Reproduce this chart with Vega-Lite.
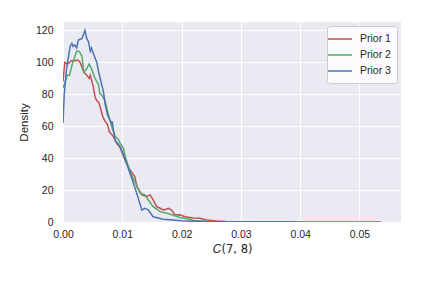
{
  "$schema": "https://vega.github.io/schema/vega-lite/v6.json",
  "width": 338,
  "height": 200,
  "autosize": {"type": "none"},
  "padding": {"left": 63, "top": 22, "right": 22, "bottom": 60},
  "background": "white",
  "data": {"values": [
    {"x": 0.0000, "d": 88, "s": "Prior 1"},
    {"x": 0.0003, "d": 100, "s": "Prior 1"},
    {"x": 0.0008, "d": 99, "s": "Prior 1"},
    {"x": 0.0014, "d": 101, "s": "Prior 1"},
    {"x": 0.0020, "d": 101, "s": "Prior 1"},
    {"x": 0.0025, "d": 101.5, "s": "Prior 1"},
    {"x": 0.0029, "d": 100, "s": "Prior 1"},
    {"x": 0.0032, "d": 97, "s": "Prior 1"},
    {"x": 0.0035, "d": 94, "s": "Prior 1"},
    {"x": 0.0040, "d": 92, "s": "Prior 1"},
    {"x": 0.0044, "d": 90, "s": "Prior 1"},
    {"x": 0.0046, "d": 92, "s": "Prior 1"},
    {"x": 0.0051, "d": 85, "s": "Prior 1"},
    {"x": 0.0054, "d": 78.5, "s": "Prior 1"},
    {"x": 0.0057, "d": 76, "s": "Prior 1"},
    {"x": 0.0060, "d": 75, "s": "Prior 1"},
    {"x": 0.0062, "d": 73, "s": "Prior 1"},
    {"x": 0.0067, "d": 66, "s": "Prior 1"},
    {"x": 0.0071, "d": 63, "s": "Prior 1"},
    {"x": 0.0075, "d": 61, "s": "Prior 1"},
    {"x": 0.0078, "d": 56.6, "s": "Prior 1"},
    {"x": 0.0085, "d": 53.5, "s": "Prior 1"},
    {"x": 0.0091, "d": 49, "s": "Prior 1"},
    {"x": 0.0096, "d": 47, "s": "Prior 1"},
    {"x": 0.0102, "d": 41, "s": "Prior 1"},
    {"x": 0.0107, "d": 37, "s": "Prior 1"},
    {"x": 0.0113, "d": 32.6, "s": "Prior 1"},
    {"x": 0.0121, "d": 28.4, "s": "Prior 1"},
    {"x": 0.0125, "d": 22, "s": "Prior 1"},
    {"x": 0.0133, "d": 17, "s": "Prior 1"},
    {"x": 0.0141, "d": 16, "s": "Prior 1"},
    {"x": 0.0147, "d": 17, "s": "Prior 1"},
    {"x": 0.0152, "d": 13.8, "s": "Prior 1"},
    {"x": 0.0158, "d": 9.6, "s": "Prior 1"},
    {"x": 0.0164, "d": 8.6, "s": "Prior 1"},
    {"x": 0.0169, "d": 7.5, "s": "Prior 1"},
    {"x": 0.0174, "d": 8.0, "s": "Prior 1"},
    {"x": 0.0178, "d": 8.6, "s": "Prior 1"},
    {"x": 0.0183, "d": 7.5, "s": "Prior 1"},
    {"x": 0.0189, "d": 4.4, "s": "Prior 1"},
    {"x": 0.0197, "d": 4.5, "s": "Prior 1"},
    {"x": 0.0206, "d": 3.3, "s": "Prior 1"},
    {"x": 0.0220, "d": 2.5, "s": "Prior 1"},
    {"x": 0.0231, "d": 2.3, "s": "Prior 1"},
    {"x": 0.0242, "d": 1.25, "s": "Prior 1"},
    {"x": 0.0259, "d": 0.6, "s": "Prior 1"},
    {"x": 0.0275, "d": 0.3, "s": "Prior 1"},
    {"x": 0.0300, "d": 0.1, "s": "Prior 1"},
    {"x": 0.0350, "d": 0.03, "s": "Prior 1"},
    {"x": 0.0400, "d": 0.01, "s": "Prior 1"},
    {"x": 0.0450, "d": 0.01, "s": "Prior 1"},
    {"x": 0.0536, "d": 0.01, "s": "Prior 1"},
    {"x": 0.0000, "d": 84, "s": "Prior 2"},
    {"x": 0.0003, "d": 87, "s": "Prior 2"},
    {"x": 0.0007, "d": 92, "s": "Prior 2"},
    {"x": 0.0011, "d": 92, "s": "Prior 2"},
    {"x": 0.0015, "d": 98, "s": "Prior 2"},
    {"x": 0.0019, "d": 102.6, "s": "Prior 2"},
    {"x": 0.0023, "d": 107, "s": "Prior 2"},
    {"x": 0.0027, "d": 107, "s": "Prior 2"},
    {"x": 0.0032, "d": 104, "s": "Prior 2"},
    {"x": 0.0035, "d": 94, "s": "Prior 2"},
    {"x": 0.0040, "d": 96, "s": "Prior 2"},
    {"x": 0.0044, "d": 99, "s": "Prior 2"},
    {"x": 0.0048, "d": 96, "s": "Prior 2"},
    {"x": 0.0054, "d": 90, "s": "Prior 2"},
    {"x": 0.0060, "d": 86, "s": "Prior 2"},
    {"x": 0.0062, "d": 80.6, "s": "Prior 2"},
    {"x": 0.0065, "d": 79.6, "s": "Prior 2"},
    {"x": 0.0071, "d": 76, "s": "Prior 2"},
    {"x": 0.0076, "d": 68, "s": "Prior 2"},
    {"x": 0.0082, "d": 60, "s": "Prior 2"},
    {"x": 0.0088, "d": 53.5, "s": "Prior 2"},
    {"x": 0.0093, "d": 52, "s": "Prior 2"},
    {"x": 0.0097, "d": 49, "s": "Prior 2"},
    {"x": 0.0102, "d": 46, "s": "Prior 2"},
    {"x": 0.0105, "d": 41, "s": "Prior 2"},
    {"x": 0.0113, "d": 31.5, "s": "Prior 2"},
    {"x": 0.0124, "d": 23, "s": "Prior 2"},
    {"x": 0.0130, "d": 18, "s": "Prior 2"},
    {"x": 0.0138, "d": 17, "s": "Prior 2"},
    {"x": 0.0144, "d": 13.8, "s": "Prior 2"},
    {"x": 0.0152, "d": 9.6, "s": "Prior 2"},
    {"x": 0.0164, "d": 6.5, "s": "Prior 2"},
    {"x": 0.0180, "d": 5, "s": "Prior 2"},
    {"x": 0.0197, "d": 2.8, "s": "Prior 2"},
    {"x": 0.0214, "d": 1.7, "s": "Prior 2"},
    {"x": 0.0220, "d": 1.0, "s": "Prior 2"},
    {"x": 0.0240, "d": 0.4, "s": "Prior 2"},
    {"x": 0.0260, "d": 0.15, "s": "Prior 2"},
    {"x": 0.0300, "d": 0.05, "s": "Prior 2"},
    {"x": 0.0405, "d": 0.01, "s": "Prior 2"},
    {"x": 0.0000, "d": 62, "s": "Prior 3"},
    {"x": 0.0002, "d": 79.6, "s": "Prior 3"},
    {"x": 0.0006, "d": 96, "s": "Prior 3"},
    {"x": 0.0012, "d": 110, "s": "Prior 3"},
    {"x": 0.0015, "d": 112, "s": "Prior 3"},
    {"x": 0.0017, "d": 110, "s": "Prior 3"},
    {"x": 0.0020, "d": 111, "s": "Prior 3"},
    {"x": 0.0023, "d": 109, "s": "Prior 3"},
    {"x": 0.0026, "d": 114, "s": "Prior 3"},
    {"x": 0.0032, "d": 115, "s": "Prior 3"},
    {"x": 0.0037, "d": 120, "s": "Prior 3"},
    {"x": 0.0040, "d": 115, "s": "Prior 3"},
    {"x": 0.0043, "d": 113, "s": "Prior 3"},
    {"x": 0.0046, "d": 107, "s": "Prior 3"},
    {"x": 0.0048, "d": 109, "s": "Prior 3"},
    {"x": 0.0051, "d": 105.7, "s": "Prior 3"},
    {"x": 0.0057, "d": 100, "s": "Prior 3"},
    {"x": 0.0059, "d": 96, "s": "Prior 3"},
    {"x": 0.0062, "d": 91, "s": "Prior 3"},
    {"x": 0.0068, "d": 82, "s": "Prior 3"},
    {"x": 0.0071, "d": 74, "s": "Prior 3"},
    {"x": 0.0075, "d": 67, "s": "Prior 3"},
    {"x": 0.0079, "d": 64, "s": "Prior 3"},
    {"x": 0.0082, "d": 62, "s": "Prior 3"},
    {"x": 0.0083, "d": 63, "s": "Prior 3"},
    {"x": 0.0085, "d": 57.6, "s": "Prior 3"},
    {"x": 0.0088, "d": 51, "s": "Prior 3"},
    {"x": 0.0093, "d": 49, "s": "Prior 3"},
    {"x": 0.0099, "d": 45, "s": "Prior 3"},
    {"x": 0.0105, "d": 39, "s": "Prior 3"},
    {"x": 0.0113, "d": 30.5, "s": "Prior 3"},
    {"x": 0.0121, "d": 22, "s": "Prior 3"},
    {"x": 0.0127, "d": 14.8, "s": "Prior 3"},
    {"x": 0.0133, "d": 7.5, "s": "Prior 3"},
    {"x": 0.0138, "d": 8.6, "s": "Prior 3"},
    {"x": 0.0144, "d": 7.5, "s": "Prior 3"},
    {"x": 0.0152, "d": 3.3, "s": "Prior 3"},
    {"x": 0.0169, "d": 1.7, "s": "Prior 3"},
    {"x": 0.0186, "d": 1.2, "s": "Prior 3"},
    {"x": 0.0200, "d": 0.8, "s": "Prior 3"},
    {"x": 0.0220, "d": 0.5, "s": "Prior 3"},
    {"x": 0.0250, "d": 0.2, "s": "Prior 3"},
    {"x": 0.0300, "d": 0.05, "s": "Prior 3"},
    {"x": 0.0390, "d": 0.01, "s": "Prior 3"}
  ]},
  "mark": {"type": "line", "strokeWidth": 1.5, "clip": true},
  "encoding": {
    "x": {"field": "x", "type": "quantitative", "title": "𝐶(7, 8)",
      "scale": {"domain": [0, 0.057], "nice": false, "zero": false},
      "axis": {"values": [0, 0.01, 0.02, 0.03, 0.04, 0.05], "format": ".2f", "labelPadding": 7, "titlePadding": 4, "labelFlush": false, "titleFont": "DejaVu Sans", "titleFontSize": 11.5}},
    "y": {"field": "d", "type": "quantitative", "title": "Density",
      "scale": {"domain": [0, 125.3], "nice": false},
      "axis": {"values": [0, 20, 40, 60, 80, 100, 120], "labelPadding": 10, "titlePadding": 6}},
    "color": {"field": "s", "type": "nominal",
      "scale": {"domain": ["Prior 1", "Prior 2", "Prior 3"], "range": ["#C44E52", "#55A868", "#4C72B0"]},
      "legend": {"title": null, "orient": "top-right", "offset": 4}}
  },
  "config": {
    "view": {"fill": "#EAEAF2", "stroke": null},
    "axis": {"domain": false, "ticks": false, "gridColor": "#FFFFFF", "gridWidth": 1, "gridOpacity": 1,
      "labelFont": "Liberation Sans", "labelFontSize": 10.5, "labelColor": "#262626",
      "titleFont": "Liberation Sans", "titleFontWeight": "normal", "titleColor": "#262626", "titleFontSize": 11.5},
    "legend": {"labelFont": "Liberation Sans", "labelFontSize": 10.5, "labelColor": "#262626",
      "fillColor": "rgba(255,255,255,0.8)", "strokeColor": "#CCCCCC", "cornerRadius": 3, "padding": 6,
      "symbolType": "M-2,0H2", "symbolSize": 144, "symbolStrokeWidth": 1.5, "labelOffset": 13, "rowPadding": 3}
  }
}
